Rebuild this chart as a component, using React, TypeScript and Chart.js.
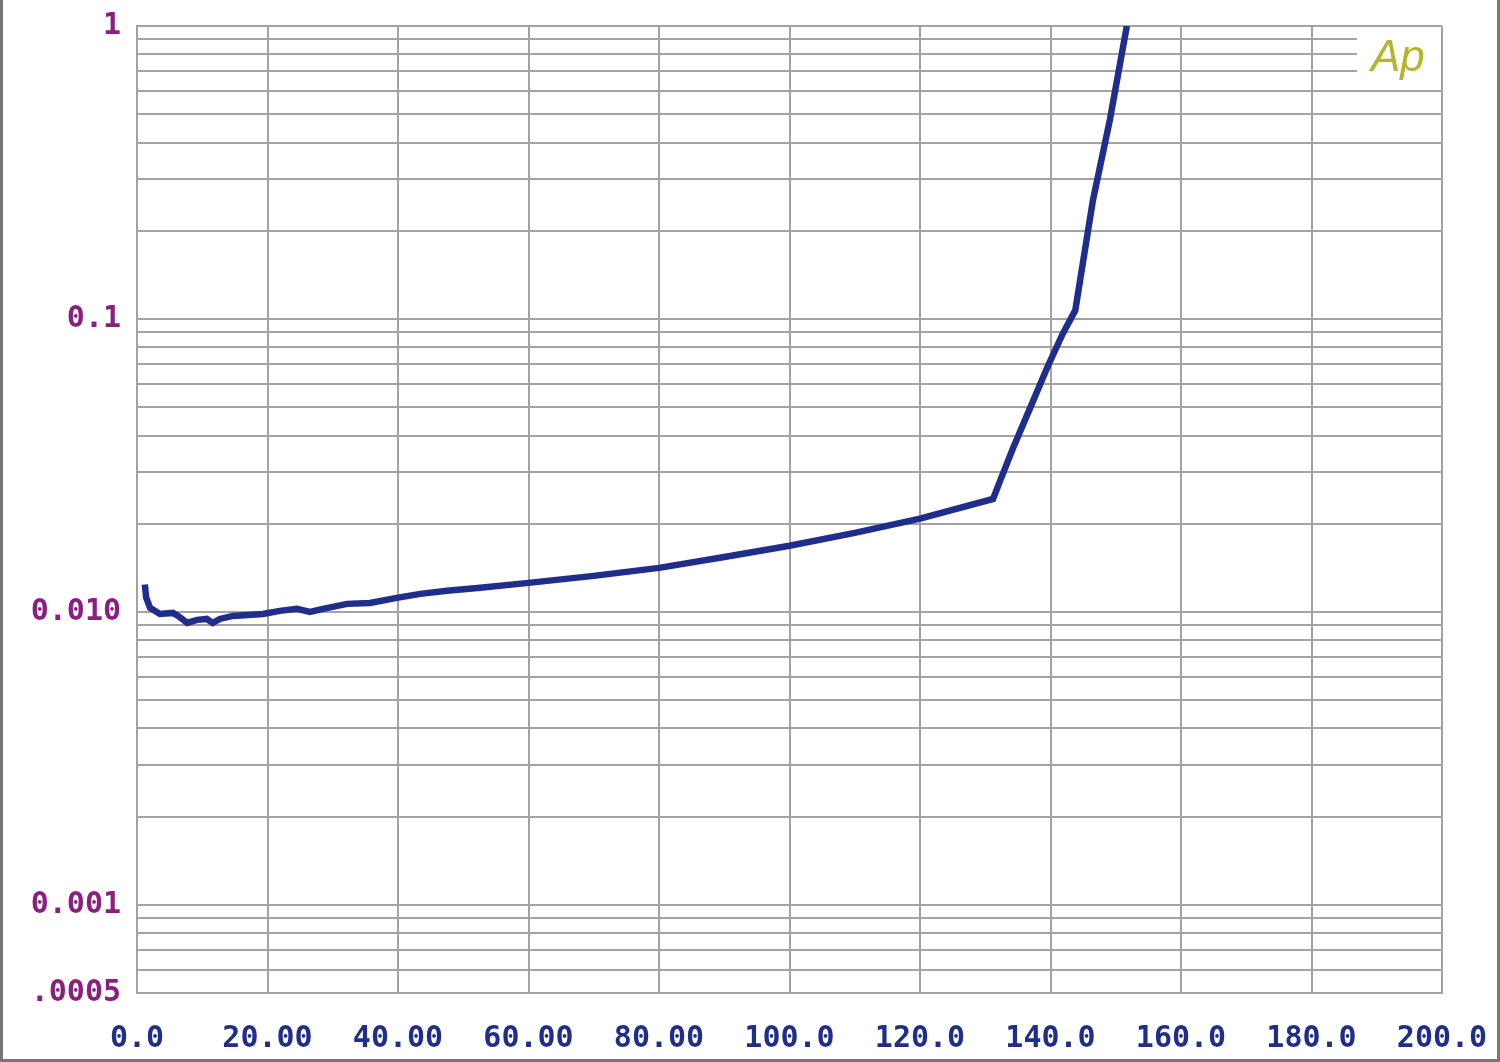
import React, { useEffect, useRef } from "react";
import { Chart, registerables } from "chart.js";

Chart.register(...registerables);

// x: amplitude values, y: distortion values
const xValues = [1.2, 1.4, 2.0, 3.5, 5.5, 6.3, 7.7, 9.2, 10.7, 11.6, 12.7, 14.7, 19.3, 21.9, 24.5, 26.5, 28.5, 32.2, 35.7, 39.8, 43.4, 47.5, 52.6, 60, 70, 80, 90, 100, 110, 120, 131.2, 132.3, 134.3, 136.9, 139.5, 141.9, 143.8, 146.5, 149.1, 151.7];
const yValues = [0.0124, 0.0112, 0.01032, 0.00984, 0.00992, 0.00969, 0.00917, 0.00939, 0.00946, 0.00917, 0.00946, 0.00969, 0.00984, 0.01008, 0.01024, 0.0100, 0.01024, 0.01065, 0.01073, 0.01116, 0.01152, 0.0118, 0.01208, 0.01256, 0.01327, 0.01413, 0.0154, 0.01681, 0.0186, 0.0208, 0.0243, 0.0281, 0.0364, 0.0498, 0.0683, 0.0892, 0.107, 0.254, 0.478, 1.0];

const xTicks = [0, 20, 40, 60, 80, 100, 120, 140, 160, 180, 200];
const xTickLabels = ["0.0", "20.00", "40.00", "60.00", "80.00", "100.0", "120.0", "140.0", "160.0", "180.0", "200.0"];
const yLabelValues = [1, 0.1, 0.01, 0.001, 0.0005];
const yLabelTexts = ["1", "0.1", "0.010", "0.001", ".0005"];
const yDecades = [0.0001, 0.001, 0.01, 0.1];
const yMantissas = [1, 2, 3, 4, 5, 6, 7, 8, 9];
const Y_MIN = 0.0005;
const Y_MAX = 1;

const GRID = "#a3a3a3";
const FONT = '"DejaVu Sans Mono", "Liberation Mono", monospace';

export default function App() {
  const ref = useRef<HTMLCanvasElement | null>(null);

  useEffect(() => {
    if (!ref.current) return;
    const yGrid: number[] = [];
    yDecades.forEach((d) => yMantissas.forEach((m) => {
      const v = +(d * m).toPrecision(3);
      if (v >= Y_MIN && v <= Y_MAX) yGrid.push(v);
    }));
    yGrid.push(1);

    const apPlugin = {
      id: "apLogo",
      beforeDatasetsDraw(chart: any) {
        const { ctx, chartArea } = chart;
        ctx.save();
        ctx.fillStyle = "#ffffff";
        ctx.fillRect(chartArea.right - 85, chartArea.top + 4, 84, 52);
        ctx.fillStyle = "#b3b62a";
        ctx.font = 'italic 44px "Liberation Sans", sans-serif';
        ctx.textBaseline = "alphabetic";
        ctx.fillText("Ap", chartArea.right - 71, chartArea.top + 45);
        ctx.restore();
      },
    };

    const chart = new Chart(ref.current, {
      type: "line",
      data: {
        datasets: [
          {
            data: xValues.map((x, i) => ({ x, y: yValues[i] })),
            borderColor: "#1f2d8c",
            borderWidth: 6.5,
            pointRadius: 0,
            fill: false,
            tension: 0,
          },
        ],
      },
      options: {
        animation: false,
        responsive: false,
        maintainAspectRatio: false,
        layout: { padding: { left: 0, top: 26, right: 58, bottom: 0 } },
        plugins: { legend: { display: false }, tooltip: { enabled: false } },
        scales: {
          x: {
            type: "linear",
            min: 0,
            max: 200,
            afterBuildTicks: (scale: any) => {
              scale.ticks = xTicks.map((v) => ({ value: v }));
            },
            afterFit: (scale: any) => {
              scale.height = 69;
              scale.paddingLeft = 0;
              scale.paddingRight = 0;
            },
            ticks: {
              autoSkip: false,
              maxRotation: 0,
              padding: 28,
              color: "#1f2d8c",
              font: { family: FONT, size: 30, weight: "bold" },
              callback: (v: any) => {
                const i = xTicks.indexOf(Number(v));
                return i >= 0 ? xTickLabels[i] : "";
              },
            },
            grid: { color: GRID, lineWidth: 2, drawTicks: false },
            border: { display: true, color: GRID, width: 2 },
          },
          y: {
            type: "logarithmic",
            min: Y_MIN,
            max: Y_MAX,
            afterBuildTicks: (scale: any) => {
              scale.ticks = yGrid.map((v) => ({ value: v }));
            },
            afterFit: (scale: any) => {
              scale.width = 137;
              scale.paddingTop = 0;
              scale.paddingBottom = 0;
            },
            ticks: {
              autoSkip: false,
              padding: 16,
              color: "#8a1f80",
              font: { family: FONT, size: 30, weight: "bold" },
              callback: (v: any) => {
                const n = Number(v);
                const i = yLabelValues.findIndex((l) => Math.abs(l - n) / l < 1e-6);
                return i >= 0 ? yLabelTexts[i] : "";
              },
            },
            grid: { color: GRID, lineWidth: 2, drawTicks: false },
            border: { display: true, color: GRID, width: 2 },
          },
        },
      },
      plugins: [apPlugin],
    } as any);
    return () => chart.destroy();
  }, []);

  return (
    <div style={{ position: "fixed", left: 0, top: 0, width: 1500, height: 1062, background: "#fff" }}>
      <canvas ref={ref} width={1500} height={1062} style={{ display: "block", width: 1500, height: 1062 }} />
      <div
        style={{
          position: "absolute",
          inset: 0,
          boxSizing: "border-box",
          borderLeft: "3px solid #777",
          borderRight: "3px solid #777",
          borderBottom: "3px solid #777",
          pointerEvents: "none",
        }}
      />
    </div>
  );
}
